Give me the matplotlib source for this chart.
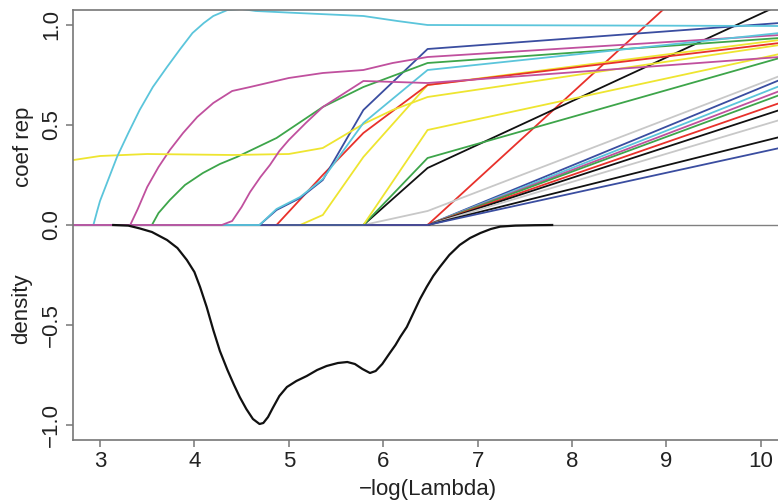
import matplotlib
matplotlib.use("Agg")
import matplotlib.pyplot as plt

plt.rcParams['font.family'] = ['Liberation Sans', 'DejaVu Sans']

# colours (R style palette)
BLACK = '#111111'
RED = '#E8312B'
GREEN = '#3DA54A'
BLUE = '#3A4DA0'
CYAN = '#5BC5DB'
MAGENTA = '#C0509E'
YELLOW = '#EEE530'
GRAY = '#C8C8C8'

# coefficient paths: -log(lambda) knots and coefficient values
fan_x = [2.6, 6.47, 10.2]
fan_colors = [BLUE, CYAN, MAGENTA, GREEN, RED, BLACK, GRAY, BLACK]
fan_end = [0.725, 0.695, 0.67, 0.65, 0.61, 0.575, 0.525, 0.44]

late_x = [2.6, 5.79, 6.47, 10.2]
yellow_c = [0, 0, 0.475, 0.855]
green_b = [0, 0, 0.335, 0.835]
black_a = [0, 0, 0.285, 1.10]
gray_a = [0, 0, 0.07, 0.745]

red_b_x = [2.6, 6.47, 10.2]
red_b = [0, 0, 1.61]

yellow_b_x = [2.6, 5.12, 5.36, 5.79, 6.47, 10.2]
yellow_b = [0, 0, 0.05, 0.34, 0.70, 0.925]

red_a_x = [2.6, 4.87, 5.36, 5.79, 6.47, 10.2]
red_a = [0, 0, 0.25, 0.46, 0.70, 0.91]

bc_x = [2.6, 4.69, 4.87, 5.12, 5.36, 5.79, 6.47, 10.2]
blue_a = [0, 0, 0.075, 0.135, 0.225, 0.575, 0.88, 1.01]
cyan_b = [0, 0, 0.08, 0.14, 0.23, 0.51, 0.775, 0.96]

green_a_x = [2.6, 3.55, 3.62, 3.74, 3.9, 4.09, 4.27, 4.45, 4.87, 5.36, 5.79, 6.47, 10.2]
green_a = [0, 0, 0.06, 0.125, 0.2, 0.26, 0.305, 0.34, 0.435, 0.59, 0.69, 0.81, 0.935]

magenta_a_x = [2.6, 3.32, 3.4, 3.50, 3.62, 3.74, 3.88, 4.03, 4.2, 4.40, 4.59, 5.0,
               5.36, 5.79, 6.1, 6.47, 10.2]
magenta_a = [0, 0, 0.08, 0.19, 0.29, 0.375, 0.46, 0.54, 0.61, 0.67, 0.69, 0.735,
             0.76, 0.775, 0.81, 0.84, 0.95]

magenta_b_x = [2.6, 4.29, 4.40, 4.5, 4.59, 4.7, 4.8, 4.9, 5.0, 5.18, 5.36, 5.79, 6.47, 10.2]
magenta_b = [0, 0, 0.02, 0.09, 0.165, 0.24, 0.30, 0.37, 0.425, 0.51, 0.59, 0.72, 0.71, 0.84]

yellow_a_x = [2.6, 2.72, 3.0, 3.5, 4.4, 5.0, 5.36, 5.79, 6.1, 6.47, 10.2]
yellow_a = [0.32, 0.325, 0.345, 0.355, 0.35, 0.355, 0.385, 0.505, 0.575, 0.64, 0.90]

cyan_a_x = [2.6, 2.93, 2.97, 3.0, 3.09, 3.18, 3.3, 3.42, 3.56, 3.71, 3.85, 3.98, 4.1,
            4.2, 4.35, 4.5, 4.65, 5.0, 5.79, 6.15, 6.47, 10.2]
cyan_a = [0, 0, 0.07, 0.12, 0.23, 0.34, 0.46, 0.575, 0.69, 0.79, 0.88, 0.96, 1.01,
          1.045, 1.075, 1.08, 1.07, 1.062, 1.045, 1.02, 1.0, 0.995]

blue_last = 0.385  # last fan line, sits on top along zero

# density curve (drawn negative)
dens_x = [3.14, 3.3, 3.42, 3.55, 3.71, 3.82, 3.92, 4.0, 4.06, 4.13, 4.20, 4.27, 4.35,
          4.42, 4.48, 4.55, 4.62, 4.69, 4.73, 4.78, 4.83, 4.90, 4.98, 5.08, 5.19,
          5.30, 5.40, 5.52, 5.62, 5.70, 5.78, 5.86, 5.92, 5.99, 6.07, 6.13, 6.18,
          6.25, 6.32, 6.39, 6.46, 6.53, 6.60, 6.70, 6.81, 6.92, 7.03, 7.14, 7.24,
          7.4, 7.6, 7.79]
dens_y = [0, -0.003, -0.017, -0.035, -0.075, -0.115, -0.175, -0.235, -0.31, -0.41,
          -0.525, -0.63, -0.725, -0.80, -0.86, -0.92, -0.97, -0.995, -0.99, -0.96,
          -0.915, -0.855, -0.81, -0.78, -0.755, -0.725, -0.705, -0.69, -0.685,
          -0.695, -0.72, -0.74, -0.73, -0.695, -0.64, -0.60, -0.56, -0.51, -0.44,
          -0.37, -0.31, -0.255, -0.21, -0.15, -0.10, -0.065, -0.04, -0.02, -0.008,
          -0.003, -0.001, 0]

fig = plt.figure(figsize=(7.78, 5.04), dpi=100)
ax = fig.add_axes([73/778, 1 - 440/504, 710/778, 430/504])

ax.axhline(0, color='#808080', lw=1.0, zorder=1)

lw = 1.3
for c, e in zip(fan_colors, fan_end):
    ax.plot(fan_x, [0, 0, e], color=c, lw=lw)
ax.plot(red_b_x, red_b, color=RED, lw=lw)
ax.plot(late_x, gray_a, color=GRAY, lw=lw)
ax.plot(late_x, black_a, color=BLACK, lw=lw)
ax.plot(late_x, green_b, color=GREEN, lw=lw)
ax.plot(late_x, yellow_c, color=YELLOW, lw=lw)
ax.plot(yellow_b_x, yellow_b, color=YELLOW, lw=lw)
ax.plot(red_a_x, red_a, color=RED, lw=lw)
ax.plot(bc_x, blue_a, color=BLUE, lw=lw)
ax.plot(green_a_x, green_a, color=GREEN, lw=lw)
ax.plot(magenta_a_x, magenta_a, color=MAGENTA, lw=lw)
ax.plot(yellow_a_x, yellow_a, color=YELLOW, lw=lw)
ax.plot(cyan_a_x, cyan_a, color=CYAN, lw=lw)
ax.plot(fan_x, [0, 0, blue_last], color=BLUE, lw=lw)
ax.plot(bc_x, cyan_b, color=CYAN, lw=lw)
ax.plot(magenta_b_x, magenta_b, color=MAGENTA, lw=lw)

ax.plot(dens_x, dens_y, color=BLACK, lw=1.6)

ax.set_xlim(2.714, 10.235)
ax.set_ylim(-1.075, 1.075)
ax.set_xticks(range(3, 11))
ax.set_yticks([-1.0, -0.5, 0.0, 0.5, 1.0])
ax.set_yticklabels(['\u22121.0', '\u22120.5', '0.0', '0.5', '1.0'],
                   rotation=90, va='center')

for s in ['left', 'bottom', 'top']:
    ax.spines[s].set_color('#777777')
    ax.spines[s].set_linewidth(1.2)
ax.spines['right'].set_visible(False)
ax.tick_params(direction='out', length=5, width=1.1, color='#777777',
               labelsize=16, labelcolor='#222222', pad=3)

fig.text(24/778, 1 - 147/504, 'coef rep', rotation=90, ha='center', va='center',
         fontsize=16, color='#222222')
fig.text(22/778, 1 - 309/504, 'density', rotation=90, ha='center', va='center',
         fontsize=16, color='#222222')
fig.text(428/778, 1 - 490/504, '\u2212log(Lambda)', ha='center', va='center',
         fontsize=16, color='#222222')

fig.savefig('out.png', dpi=100)
